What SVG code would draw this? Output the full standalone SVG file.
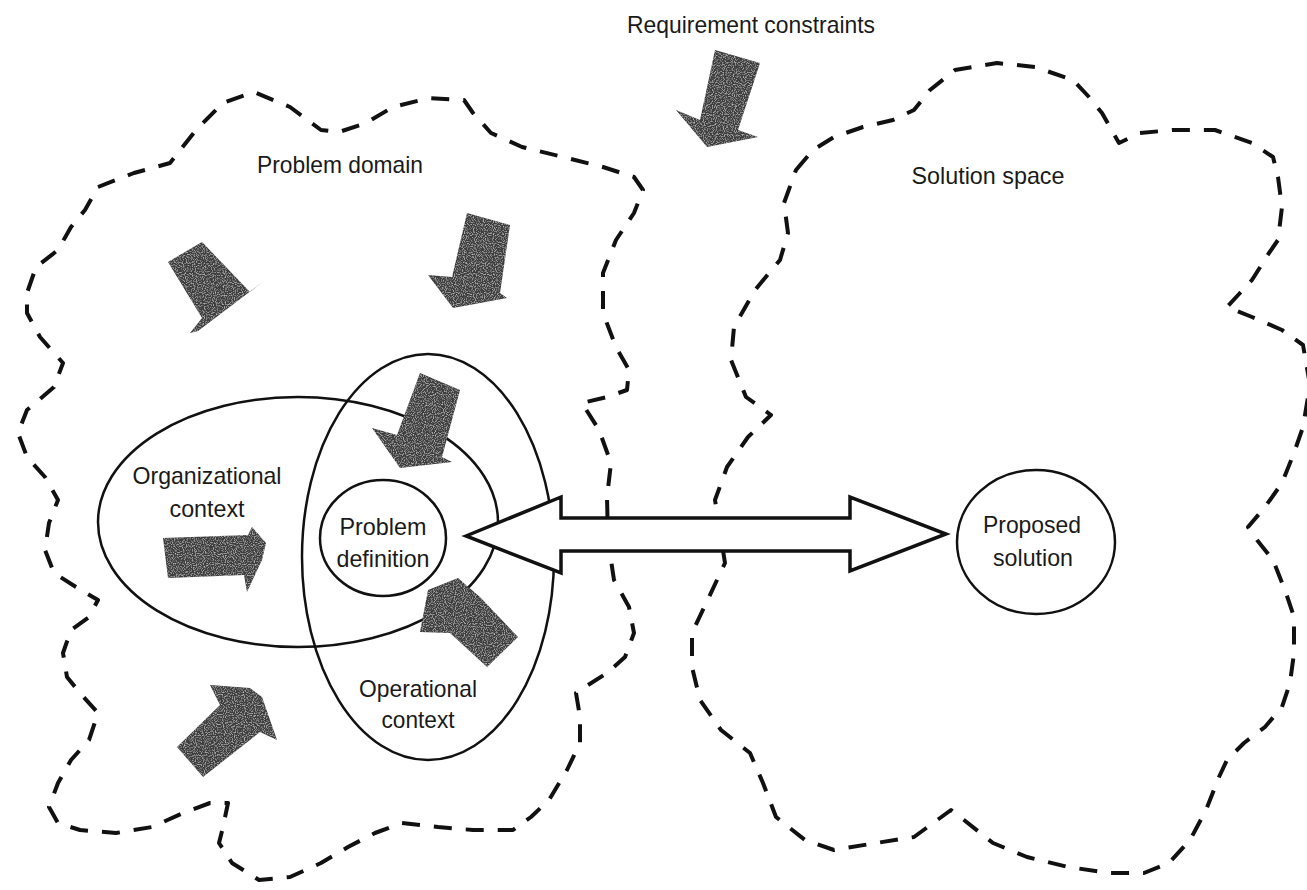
<svg xmlns="http://www.w3.org/2000/svg" width="1307" height="890" viewBox="0 0 1307 890">
<style>
.cloud{fill:none;stroke:#111;stroke-width:4;stroke-dasharray:18 14;stroke-linejoin:round;stroke-linecap:butt}
.ring{fill:none;stroke:#111;stroke-width:2.5}
.force{fill:#3c3c3c;filter:url(#grain)}
.dbl{fill:#fff;stroke:#111;stroke-width:3.5;stroke-linejoin:miter}
.lbl{font-family:"Liberation Sans",Arial,sans-serif;font-size:24px;fill:#1a1a1a;text-anchor:middle}
</style>
<defs>
<filter id="grain" x="0" y="0" width="1" height="1">
<feTurbulence type="fractalNoise" baseFrequency="0.9" numOctaves="1" seed="3" result="n"/>
<feColorMatrix in="n" type="matrix" values="0 0 0 0 0.8  0 0 0 0 0.8  0 0 0 0 0.8  0 0 0 1.8 -0.85" result="spk"/>
<feComposite in="spk" in2="SourceGraphic" operator="in" result="s"/>
<feMerge><feMergeNode in="SourceGraphic"/><feMergeNode in="s"/></feMerge>
</filter>
</defs>
<rect width="1307" height="890" fill="#fff"/>

<g id="problem-domain">
<path class="cloud" d="M98,187 L134,173 170,163 196,130 223,103 254,92 290,107 321,130 339,132 366,123 393,107 429,98 464,100 473,113 491,133 522,147 563,157 603,167 634,177 643,190 634,213 616,240 603,273 603,313 616,347 629,370 627,390 607,397 582,403 599,430 611,463 607,497 608,540 614,580 629,607 634,633 625,657 607,673 585,687 576,693 580,717 580,743 567,770 549,800 531,817 513,830 473,830 438,827 402,823 375,833 348,847 321,863 290,877 259,880 232,863 219,843 223,827 228,803 210,803 183,813 152,827 116,833 80,830 58,823 49,807 58,783 71,760 89,740 98,713 80,693 67,677 63,653 71,630 89,617 98,600 76,587 54,573 45,550 49,523 58,500 45,477 27,457 18,433 27,410 54,387 63,363 40,337 27,313 27,293 36,267 58,250 71,227 85,210 Z"/>
<text class="lbl" x="340" y="173" textLength="166" lengthAdjust="spacingAndGlyphs">Problem domain</text>
</g>

<g id="solution-space">
<path class="cloud" d="M796,170 L813,150 834,137 863,127 893,120 914,110 930,90 955,70 997,63 1035,67 1073,80 1089,97 1102,113 1119,143 1140,133 1173,130 1215,130 1252,143 1273,157 1278,177 1282,207 1278,240 1269,253 1252,280 1240,293 1227,307 1252,317 1282,330 1303,345 1310,385 1303,427 1294,453 1282,483 1265,507 1248,527 1257,540 1273,560 1286,593 1294,617 1294,653 1290,683 1282,707 1265,727 1244,743 1227,760 1219,777 1206,810 1190,840 1169,863 1144,873 1110,873 1068,867 1027,857 993,843 964,820 951,810 914,837 876,843 834,850 805,840 776,817 763,783 750,753 721,730 700,700 692,667 692,633 709,597 725,563 715,500 727,467 748,437 771,415 746,397 731,360 734,327 755,290 780,260 788,233 784,203 Z"/>
<text class="lbl" x="988" y="184" textLength="153" lengthAdjust="spacingAndGlyphs">Solution space</text>
</g>

<g id="requirement-constraints">
<text class="lbl" x="751" y="33" textLength="248" lengthAdjust="spacingAndGlyphs">Requirement constraints</text>
</g>

<g id="organizational-context">
<ellipse class="ring" cx="298" cy="522" rx="200" ry="125"/>
<text class="lbl" x="207" y="484" textLength="149" lengthAdjust="spacingAndGlyphs">Organizational</text>
<text class="lbl" x="207" y="517" textLength="75" lengthAdjust="spacingAndGlyphs">context</text>
</g>

<g id="operational-context">
<ellipse class="ring" cx="428" cy="557" rx="126" ry="203"/>
<text class="lbl" x="418" y="697" textLength="118" lengthAdjust="spacingAndGlyphs">Operational</text>
<text class="lbl" x="418" y="728" textLength="73" lengthAdjust="spacingAndGlyphs">context</text>
</g>

<g id="influence-arrows">
<polygon class="force" points="715,50 760,63 738,130 758,137 707,147 676,110 700,120"/>
<polygon class="force" points="168,262 202,242 250,292 264,281 198,331 190,333 202,318"/>
<polygon class="force" points="467,213 510,225 500,293 507,298 453,308 428,275 452,277"/>
<polygon class="force" points="420,373 460,390 442,457 452,462 400,468 372,428 397,435"/>
<polygon class="force" points="163,538 248,535 252,527 266,543 262,560 247,592 244,575 168,578"/>
<polygon class="force" points="518,637 487,667 450,633 420,632 428,590 458,578 480,597"/>
<polygon class="force" points="177,747 220,705 210,685 250,688 262,697 277,740 260,732 203,777"/>
</g>

<g id="problem-definition">
<ellipse class="ring" cx="383" cy="538" rx="63" ry="58" fill="#fff"/>
<text class="lbl" x="383" y="535" textLength="87" lengthAdjust="spacingAndGlyphs">Problem</text>
<text class="lbl" x="383" y="567" textLength="93" lengthAdjust="spacingAndGlyphs">definition</text>
</g>

<g id="proposed-solution">
<ellipse class="ring" cx="1036" cy="542" rx="79" ry="72"/>
<text class="lbl" x="1032" y="533" textLength="98" lengthAdjust="spacingAndGlyphs">Proposed</text>
<text class="lbl" x="1033" y="566" textLength="80" lengthAdjust="spacingAndGlyphs">solution</text>
</g>

<g id="connectors">
<polygon class="dbl" points="466,536 561,497 561,518 850,518 850,497 946,534 850,571 850,551 561,551 561,573"/>
</g>
</svg>
